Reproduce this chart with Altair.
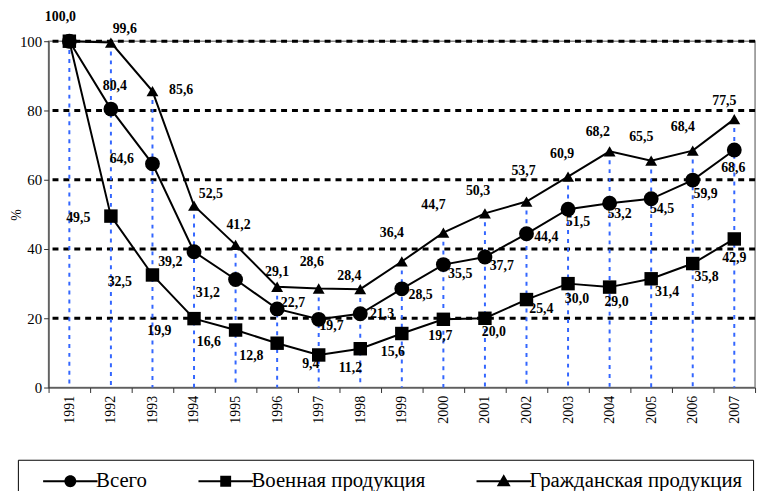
import altair as alt
import pandas as pd

years = [str(y) for y in range(1991, 2008)]
series_names = ["Всего", "Военная продукция", "Гражданская продукция"]

total = [100.0, 80.4, 64.6, 39.2, 31.2, 22.7, 19.7, 21.3, 28.5, 35.5, 37.7, 44.4, 51.5, 53.2, 54.5, 59.9, 68.6]
military = [100.0, 49.5, 32.5, 19.9, 16.6, 12.8, 9.4, 11.2, 15.6, 19.7, 20.0, 25.4, 30.0, 29.0, 31.4, 35.8, 42.9]
civil = [100.0, 99.6, 85.6, 52.5, 41.2, 29.1, 28.6, 28.4, 36.4, 44.7, 50.3, 53.7, 60.9, 68.2, 65.5, 68.4, 77.5]

# label placement (pixel offsets of the label centre from its point); None = no label
total_dx = [-9, 4, -31, -24, -28, 16, 13, 22, 19, 17, 17, 20, 10, 10, 11, 13, -1]
total_dy = [-24, -23, -5, 10, 14, -6, 7, 0, 6, 10, 9, 3, 13, 11, 10, 14, 18]
mil_dx = [None, -33, -33, -35, -27, -26, -8, -10, -9, -3, 9, 15, 9, 7, 16, 14, 0]
mil_dy = [None, 2, 7, 13, 12, 13, 9, 20, 19, 17, 14, 10, 16, 15, 13, 14, 19]
civ_dx = [None, 14, 29, 17, 3, 0, -7, -11, -10, -10, -7, -3, -6, -12, -10, -10, -10]
civ_dy = [None, -14, -1, -12, -20, -15, -27, -13, -29, -28, -23, -31, -23, -20, -24, -24, -18]

grid_values = [20, 40, 60, 80, 100]

rows = []
for name, vals, dxs, dys, order in [
    ("Военная продукция", military, mil_dx, mil_dy, 0),
    ("Гражданская продукция", civil, civ_dx, civ_dy, 1),
    ("Всего", total, total_dx, total_dy, 2),
]:
    for y, v, dx, dy in zip(years, vals, dxs, dys):
        rows.append({
            "year": y, "series": name, "value": v, "ord": order,
            "label": f"{v:.1f}".replace(".", ","),
            "ldx": dx if dx is not None else 0,
            "ldy": dy if dy is not None else 0,
            "haslabel": dx is not None,
        })
df = pd.DataFrame(rows)
drop = pd.DataFrame({"year": years, "top": [max(a, b, c) for a, b, c in zip(total, military, civil)]})
grid = pd.DataFrame({"g": grid_values})

SERIF = "Liberation Serif"
X = alt.X("year:O", title=None,
          scale=alt.Scale(type="band", paddingInner=0, paddingOuter=0, domain=years),
          axis=alt.Axis(labelAngle=-90, labelFont=SERIF, labelFontSize=14, labelColor="black",
                        tickBand="extent", tickSize=5, tickColor="#333", domainColor="#333",
                        labelPadding=3, grid=False))
YSCALE = alt.Scale(domain=[0, 100], nice=False)

grid_layer = alt.Chart(grid).mark_rule(color="black", strokeWidth=3, strokeDash=[6, 5]).encode(
    y=alt.Y("g:Q", scale=YSCALE,
            axis=alt.Axis(values=[0, 20, 40, 60, 80, 100], title="%", titleFont=SERIF,
                          titleFontSize=14, titleFontWeight="normal", titleColor="black",
                          titleAngle=-90, titleX=-32, titleY=175, titleAlign="center",
                          titleBaseline="middle",
                          labelFont=SERIF, labelFontSize=15, labelColor="black",
                          tickSize=5, tickColor="#333", domainColor="#333", grid=False, labelPadding=2))
)

drop_layer = alt.Chart(drop).mark_rule(color="#3366ff", strokeWidth=2, strokeDash=[4, 5]).encode(
    x=X, y=alt.Y("top:Q", scale=YSCALE), y2=alt.datum(0)
)

line_layer = alt.Chart(df).mark_line(color="black", strokeWidth=2).encode(
    x=X, y=alt.Y("value:Q", scale=YSCALE), detail="series:N"
)

point_layer = alt.Chart(df).mark_point(filled=True, color="black", opacity=1).encode(
    x=X, y=alt.Y("value:Q", scale=YSCALE),
    shape=alt.Shape("series:N", scale=alt.Scale(domain=series_names, range=["circle", "square", "triangle-up"]), legend=None),
    size=alt.Size("series:N", scale=alt.Scale(domain=series_names, range=[225, 144, 200]), legend=None),
    order=alt.Order("ord:Q"),
)

text_layer = alt.Chart(df).transform_filter("datum.haslabel").transform_calculate(
    ly="datum.value - datum.ldy * 100 / 350"
).mark_text(font=SERIF, fontSize=14, fontWeight="bold", color="black", baseline="middle", align="center").encode(
    x=X,
    xOffset=alt.XOffset("ldx:Q", scale=alt.Scale(domain=[-21, 21], range=[0, 42])),
    y=alt.Y("ly:Q", scale=YSCALE),
    text="label:N",
)

leg_paths = [
    "M0.4,-0.1H5.9V0.1H0.4Z M3.75,0A0.6,0.6 0 1 1 2.55,0A0.6,0.6 0 1 1 3.75,0Z",
    "M0.4,-0.1H5.9V0.1H0.4Z M2.6,-0.55H3.7V0.55H2.6Z",
    "M0.4,-0.1H5.9V0.1H0.4Z M3.15,-0.7L3.85,0.5H2.45Z",
]
legend_layer = alt.Chart(df).transform_filter("false").mark_point(filled=True, color="black", opacity=1).encode(
    x=X, y=alt.Y("value:Q", scale=YSCALE),
    shape=alt.Shape("series:N", scale=alt.Scale(domain=series_names, range=leg_paths),
                    legend=alt.Legend(title=None, orient="none", legendX=-31, legendY=423,
                                      direction="horizontal", columns=3, symbolSize=400,
                                      symbolFillColor="black", symbolStrokeWidth=0, symbolOpacity=1,
                                      labelFont=SERIF, labelFontSize=21, labelColor="black",
                                      labelOffset=47, columnPadding=37, padding=11,
                                      strokeColor="black", labelLimit=400)),
)

chart = alt.layer(grid_layer, drop_layer, line_layer, point_layer, text_layer, legend_layer).resolve_scale(
    shape="independent", size="independent"
).properties(
    width=714, height=350,
    autosize=alt.AutoSizeParams(type="none"),
    padding={"left": 41, "top": 31, "right": 6, "bottom": 102},
).configure(font=SERIF).configure_view(stroke="#888", strokeWidth=1.5)

chart.save("out.html", embed_options={"renderer": "svg", "actions": False})
